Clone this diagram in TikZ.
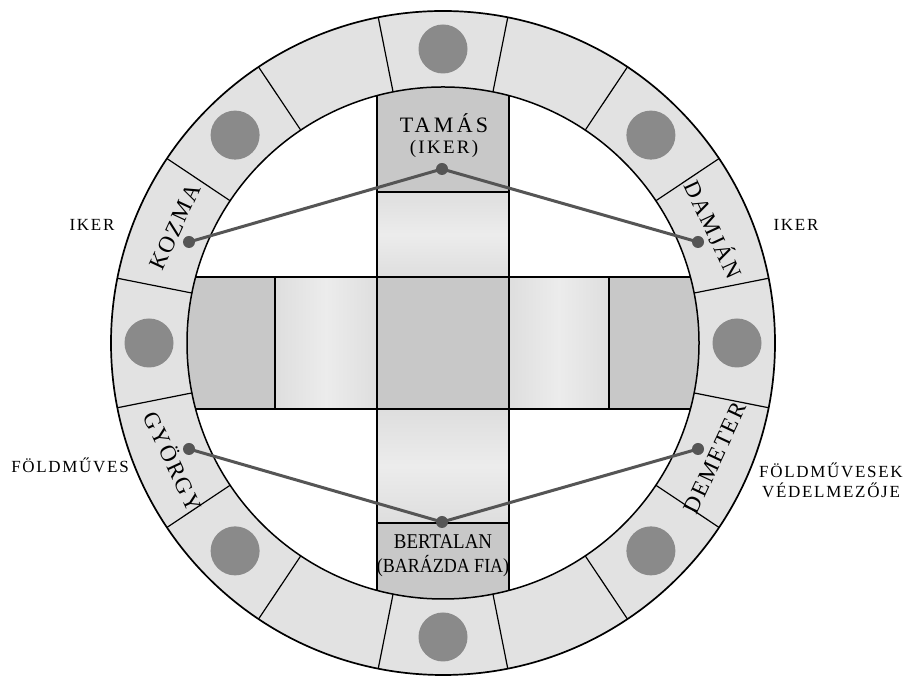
\documentclass[tikz,border=0pt]{standalone}
\usepackage{fontspec}
\setmainfont{Liberation Serif}
\definecolor{ringgray}{RGB}{226,226,226}
\definecolor{darkbox}{RGB}{200,200,200}
\definecolor{lightbox}{RGB}{222,222,222}
\definecolor{lightmid}{RGB}{236,236,236}
\definecolor{dotgray}{RGB}{138,138,138}
\definecolor{conngray}{RGB}{85,85,85}
\tikzset{
  ringname/.style={font=\fontsize{23}{23}\selectfont\addfontfeatures{LetterSpace=8}, inner sep=0pt},
  sidelabel/.style={font=\fontsize{17}{20}\selectfont\addfontfeatures{LetterSpace=10}, inner sep=0pt, align=center},
  boxtitle/.style={font=\fontsize{22}{22}\selectfont\addfontfeatures{LetterSpace=15}, inner sep=0pt},
  boxsub/.style={font=\fontsize{19}{19}\selectfont\addfontfeatures{LetterSpace=12}, inner sep=0pt},
  narrowtitle/.style={font=\fontsize{21}{21}\selectfont\addfontfeatures{FakeStretch=0.9}, inner sep=0pt},
  narrowsub/.style={font=\fontsize{20}{20}\selectfont\addfontfeatures{FakeStretch=0.9}, inner sep=0pt},
  conn/.style={draw=conngray, line width=3pt},
  pindot/.style={circle, fill=conngray, minimum size=12pt, inner sep=0pt},
  bigdot/.style={circle, fill=dotgray, minimum size=49pt, inner sep=0pt},
  outline/.style={draw=black, line width=1.2pt}
}
\begin{document}
\begin{tikzpicture}[x=1pt,y=1pt]
\useasboundingbox (0,0) rectangle (904,676);
\fill[white] (0,0) rectangle (904,676);
\coordinate (C) at (443,333);
% ring
\fill[ringgray, even odd rule] (C) circle (332) (C) circle (256);
\begin{scope}[shift={(443,333)}]
  \foreach \a in {11.25,33.75,...,350} \draw[outline] (\a:256) -- (\a:332);
  \foreach \a/\n in {0/d0,45/d45,90/d90,135/d135,180/d180,225/d225,270/d270,315/d315}
    \node[bigdot] (\n) at (\a:294) {};
  % cross
  \begin{scope}
    \clip (0,0) circle (256);
    \fill[darkbox] (-66,151) rectangle (66,262);
    \shade[top color=lightbox, bottom color=lightbox, middle color=lightmid] (-66,66) rectangle (66,151);
    \fill[darkbox] (-66,-66) rectangle (66,66);
    \shade[top color=lightbox, bottom color=lightbox, middle color=lightmid] (-66,-180) rectangle (66,-66);
    \fill[darkbox] (-66,-262) rectangle (66,-180);
    \fill[darkbox] (-262,-66) rectangle (-168,66);
    \shade[left color=lightbox, right color=lightbox, middle color=lightmid] (-168,-66) rectangle (-66,66);
    \shade[left color=lightbox, right color=lightbox, middle color=lightmid] (66,-66) rectangle (166,66);
    \fill[darkbox] (166,-66) rectangle (262,66);
    \draw[outline] (-66,262) -- (-66,-262) (66,262) -- (66,-262);
    \draw[outline] (-262,66) -- (262,66) (-262,-66) -- (262,-66);
    \draw[outline] (-66,151) -- (66,151) (-66,-180) -- (66,-180);
    \draw[outline] (-168,66) -- (-168,-66) (166,66) -- (166,-66);
  \end{scope}
  \draw[line width=1.5pt] (0,0) circle (256);
  \draw[line width=1.7pt] (0,0) circle (332);
\end{scope}
% ring names
\node[ringname, rotate=65] (kozma) at (175,449) {KOZMA};
\node[ringname, rotate=-65] (damjan) at (715,447) {DAMJÁN};
\node[ringname, rotate=-65] (gyorgy) at (174,215) {GYÖRGY};
\node[ringname, rotate=65] (demeter) at (715,218) {DEMETER};
% box texts
\node[boxtitle] (tamas) at (444,553) {TAMÁS};
\node[boxsub] (tamassub) at (444,527) {(IKER)};
\node[narrowtitle] (bertalan) at (443,134) {BERTALAN};
\node[narrowsub] (bertalansub) at (443,110) {(BARÁZDA FIA)};
% side labels
\node[sidelabel] (ikerL) at (92,451) {IKER};
\node[sidelabel] (ikerR) at (796,451) {IKER};
\node[sidelabel] (foldL) at (70,211) {FÖLDMŰVES};
\node[sidelabel] (foldR) at (831,196) {FÖLDMŰVESEK\\VÉDELMEZŐJE};
% connectors
\coordinate (pT) at (442,507);
\coordinate (pK) at (189,434);
\coordinate (pD) at (698,434);
\coordinate (pG) at (189,227);
\coordinate (pM) at (698,227);
\coordinate (pB) at (442,154);
\draw[conn] (pK) -- (pT) -- (pD);
\draw[conn] (pG) -- (pB) -- (pM);
\foreach \p in {pT,pK,pD,pG,pM,pB} \node[pindot] (dot\p) at (\p) {};
\end{tikzpicture}
\end{document}
